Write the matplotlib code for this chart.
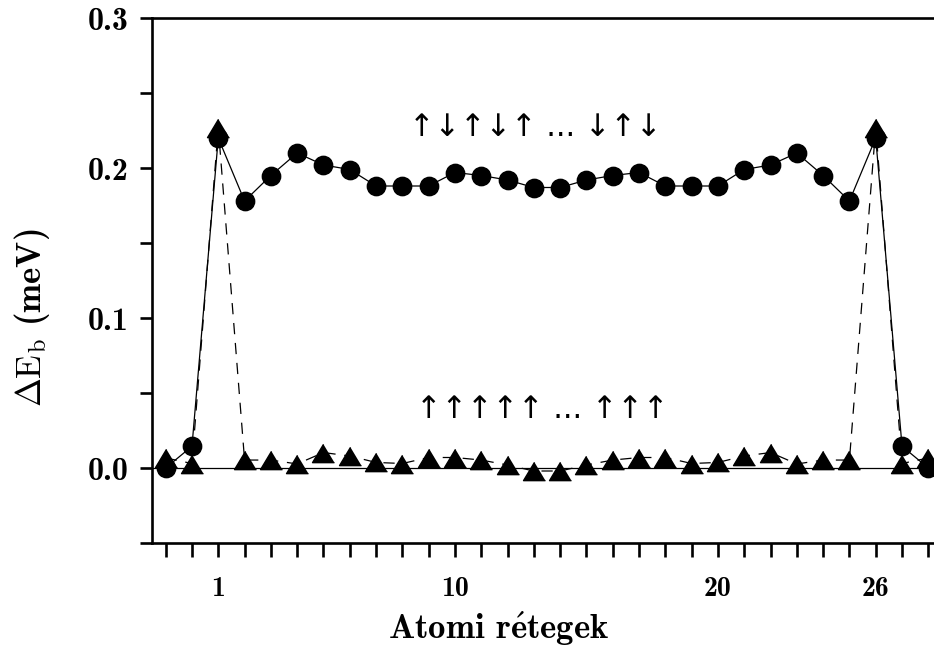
import numpy as np
import matplotlib
matplotlib.use("Agg")
import matplotlib.pyplot as plt

plt.rcParams['mathtext.fontset'] = 'cm'
plt.rcParams['axes.unicode_minus'] = False

# layer index (-1, 0 and 27, 28 are outside the slab)
layers = np.arange(-1, 29)

# antiparallel ordering (circles)
db_anti = [0.000, 0.0145, 0.220, 0.178, 0.195, 0.210, 0.202, 0.199, 0.188, 0.188,
           0.188, 0.197, 0.195, 0.192, 0.187, 0.187, 0.192, 0.195, 0.197, 0.188,
           0.188, 0.188, 0.199, 0.202, 0.210, 0.195, 0.178, 0.220, 0.0145, 0.000]

# parallel ordering (triangles)
db_par = [0.0067, 0.003, 0.227, 0.0053, 0.0053, 0.0027, 0.0103, 0.008, 0.0037, 0.003,
          0.007, 0.007, 0.0053, 0.002, -0.002, -0.002, 0.002, 0.0053, 0.007, 0.007,
          0.003, 0.0037, 0.008, 0.0103, 0.0027, 0.0053, 0.0053, 0.227, 0.003, 0.0067]

xtick_pos = [1, 10, 20, 26]
ytick_pos = [0.0, 0.1, 0.2, 0.3]

fig = plt.figure(figsize=(9.34, 6.5), dpi=100)
ax = fig.add_axes([152/934, 107/650, 790/934, 525/650])

ax.axhline(0, color='black', lw=0.9, zorder=1)

ax.plot(layers, db_anti, '-', color='black', lw=0.9, marker='o', ms=13.2,
        mfc='black', mec='black', zorder=3)
tri = [(0, 1), (-1.2, -1), (1.2, -1)]
ax.plot(layers, db_par, color='black', lw=0.9, ls=(0, (9, 7)), marker=tri, ms=15.8,
        mfc='black', mec='black', zorder=4)

ax.set_xlim(-1.52, 28.52)
ax.set_ylim(-0.05, 0.3)

ax.spines['right'].set_visible(False)
for s in ['left', 'bottom', 'top']:
    ax.spines[s].set_linewidth(1.9)

ax.set_xticks(layers)
ax.set_xticklabels([str(v) if v in xtick_pos else '' for v in layers])
yt = np.round(np.arange(-0.05, 0.301, 0.05), 2)
ax.set_yticks(yt)
ax.set_yticklabels(['%.1f' % v if np.isclose(v, ytick_pos).any() else '' for v in yt])
ax.tick_params(axis='x', direction='out', length=10, width=1.9, pad=14, top=False)
ax.tick_params(axis='y', direction='out', length=9, width=1.9, pad=8)
for lab in ax.get_xticklabels():
    lab.set_fontfamily('cmb10')
    lab.set_fontsize(20)
for lab in ax.get_yticklabels():
    lab.set_fontfamily('cmb10')
    lab.set_fontsize(23)

ax.set_xlabel(r'Atomi r$\mathbf{\acute{e}}$tegek', fontfamily='cmb10', fontsize=25)
ax.xaxis.set_label_coords(0.439, -0.163)
ax.xaxis.label.set_va('center')
ax.set_ylabel(r'$\Delta\mathrm{E}_{\mathrm{b}}$ (meV)', fontfamily='cmb10', fontsize=25)
ax.yaxis.set_label_coords(-0.152, 0.43)
ax.yaxis.label.set_va('center')

ax.text(13.05, 0.2267, '↑↓↑↓↑ ... ↓↑↓', ha='center', va='center',
        fontfamily='DejaVu Sans', fontsize=22)
ax.text(13.3, 0.0387, '↑↑↑↑↑ ... ↑↑↑', ha='center', va='center',
        fontfamily='DejaVu Sans', fontsize=22)

fig.savefig('out.png', dpi=100)
